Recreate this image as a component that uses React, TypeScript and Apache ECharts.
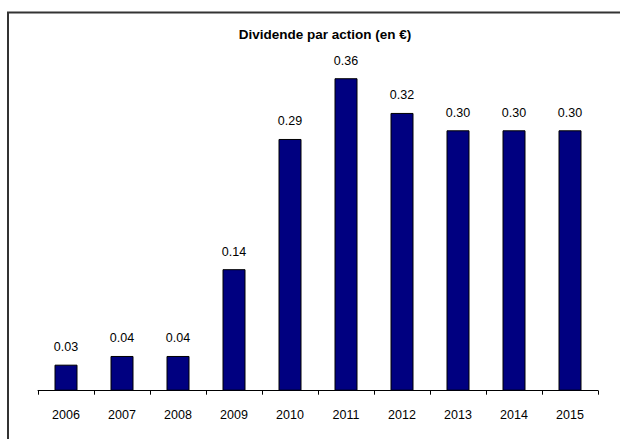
import React, { useEffect, useRef } from "react";
import * as echarts from "echarts";

const categories = ["2006", "2007", "2008", "2009", "2010", "2011", "2012", "2013", "2014", "2015"];
const dividends = [0.03, 0.04, 0.04, 0.14, 0.29, 0.36, 0.32, 0.3, 0.3, 0.3];
const titleText = "Dividende par action (en €)";

export default function App() {
  const ref = useRef<HTMLDivElement>(null);
  useEffect(() => {
    if (!ref.current) return;
    const chart = echarts.init(ref.current, null, { renderer: "svg" });
    const font = "'Liberation Sans', Arial, sans-serif";
    chart.setOption({
      animation: false,
      backgroundColor: "#ffffff",
      title: {
        text: titleText,
        left: 320,
        textAlign: "center",
        top: 22,
        textStyle: { fontFamily: font, fontSize: 13.5, fontWeight: "bold", color: "#000" },
      },
      graphic: [
        {
          type: "rect",
          shape: { x: 8, y: 12.5, width: 640, height: 460 },
          style: { fill: "none", stroke: "#333", lineWidth: 2 },
          silent: true,
          z: 100,
        },
      ],
      grid: { left: 38, right: 22, top: 43.5, bottom: 48.3 },
      xAxis: {
        type: "category",
        data: categories,
        boundaryGap: true,
        axisLine: { lineStyle: { color: "#000", width: 1 } },
        axisTick: { show: true, length: 4, lineStyle: { color: "#000" } },
        axisLabel: { fontFamily: font, fontSize: 12.5, color: "#000", margin: 18 },
      },
      yAxis: {
        type: "value",
        min: 0,
        max: 0.4,
        show: false,
        splitLine: { show: false },
      },
      series: [
        {
          type: "bar",
          data: dividends,
          barWidth: 23,
          itemStyle: { color: "#000080", borderColor: "#000", borderWidth: 1 },
          label: {
            show: true,
            position: "top",
            distance: 11,
            fontFamily: font,
            fontSize: 12.5,
            color: "#000",
            formatter: (p: any) => p.value.toFixed(2),
          },
        },
      ],
    });
    return () => chart.dispose();
  }, []);
  return (
    <div
      ref={ref}
      style={{ position: "absolute", left: 0, top: 0, width: 620, height: 439 }}
    />
  );
}
